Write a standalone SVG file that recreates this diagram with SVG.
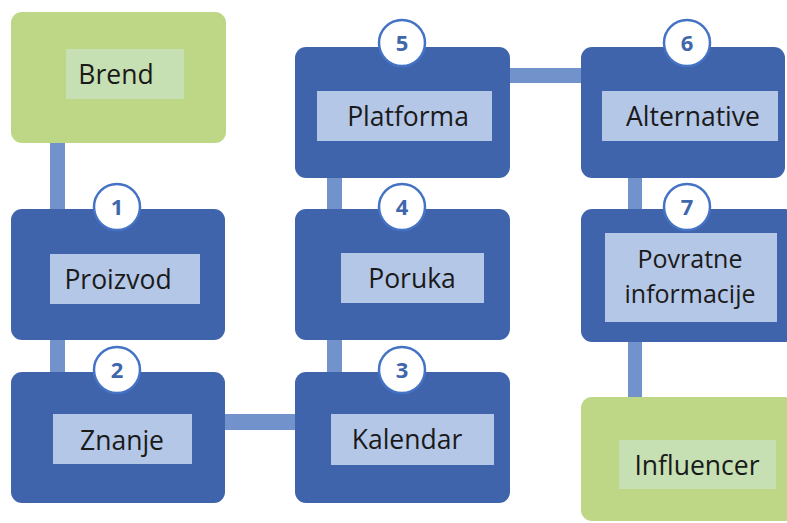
<svg xmlns="http://www.w3.org/2000/svg" width="787" height="523" viewBox="0 0 787 523">
<style>
.blue{fill:#4064AC}
.green{fill:#BDD787}
.lbl{fill:#B4C7E7}
.glbl{fill:#C6E0B4}
.t{font-family:"Open Sans","Liberation Sans",sans-serif;font-size:26.5px;fill:#1A1A1A;text-anchor:middle}
.t2{font-size:25px}
.badge circle{fill:#FFFFFF;stroke:#4472C4;stroke-width:2.5}
.badge text{font-family:"Open Sans","Liberation Sans",sans-serif;font-size:22px;font-weight:bold;fill:#4066AC;text-anchor:middle}
.c{fill:#7292CC}
</style>
<rect width="787" height="523" fill="#FFFFFF"/>
<g id="connectors">
<rect class="c" x="50" y="140" width="15" height="72"/>
<rect class="c" x="50" y="337" width="15" height="38"/>
<rect class="c" x="222" y="414" width="76" height="16"/>
<rect class="c" x="327" y="337" width="15" height="38"/>
<rect class="c" x="327" y="175" width="15" height="37"/>
<rect class="c" x="507" y="68" width="77" height="15"/>
<rect class="c" x="628" y="175" width="14" height="37"/>
<rect class="c" x="628" y="339" width="14" height="61"/>
</g>
<g id="brend">
<rect class="green" x="11" y="12" width="215" height="131" rx="11"/>
<rect class="glbl" x="66" y="49" width="118" height="50"/>
<text class="t" x="116" y="84">Brend</text>
</g>
<g id="proizvod">
<rect class="blue" x="11" y="209" width="214" height="131" rx="11"/>
<rect class="lbl" x="50" y="254" width="150" height="50"/>
<text class="t" x="118" y="289">Proizvod</text>
<g class="badge"><circle cx="117" cy="207" r="23"/><text x="117" y="215">1</text></g>
</g>
<g id="znanje">
<rect class="blue" x="11" y="372" width="214" height="131" rx="11"/>
<rect class="lbl" x="53" y="414" width="139" height="50"/>
<text class="t" x="122" y="450">Znanje</text>
<g class="badge"><circle cx="117" cy="370" r="23"/><text x="117" y="378">2</text></g>
</g>
<g id="kalendar">
<rect class="blue" x="295" y="372" width="215" height="131" rx="11"/>
<rect class="lbl" x="331" y="414" width="163" height="51"/>
<text class="t" x="407" y="449">Kalendar</text>
<g class="badge"><circle cx="402" cy="370" r="23"/><text x="402" y="378">3</text></g>
</g>
<g id="poruka">
<rect class="blue" x="295" y="209" width="215" height="131" rx="11"/>
<rect class="lbl" x="341" y="253" width="143" height="50"/>
<text class="t" x="412" y="288">Poruka</text>
<g class="badge"><circle cx="402" cy="207" r="23"/><text x="402" y="215">4</text></g>
</g>
<g id="platforma">
<rect class="blue" x="295" y="47" width="215" height="131" rx="11"/>
<rect class="lbl" x="317" y="91" width="175" height="50"/>
<text class="t" x="408" y="126">Platforma</text>
<g class="badge"><circle cx="402" cy="43" r="23"/><text x="402" y="51">5</text></g>
</g>
<g id="alternative">
<rect class="blue" x="581" y="47" width="204" height="131" rx="11"/>
<rect class="lbl" x="602" y="91" width="176" height="50"/>
<text class="t" x="693" y="126">Alternative</text>
<g class="badge"><circle cx="687" cy="43" r="23"/><text x="687" y="51">6</text></g>
</g>
<g id="povratne">
<rect class="blue" x="581" y="209" width="215" height="133" rx="11"/>
<rect class="lbl" x="605" y="233" width="172" height="89"/>
<text class="t t2" x="690" y="268">Povratne</text>
<text class="t t2" x="690" y="303">informacije</text>
<g class="badge"><circle cx="687" cy="207" r="23"/><text x="687" y="215">7</text></g>
</g>
<g id="influencer">
<rect class="green" x="581" y="397" width="215" height="124" rx="11"/>
<rect class="glbl" x="619" y="440" width="157" height="49"/>
<text class="t" x="697" y="475">Influencer</text>
</g>
</svg>
